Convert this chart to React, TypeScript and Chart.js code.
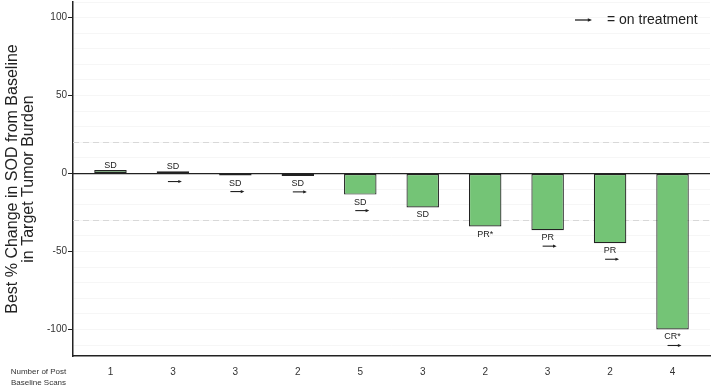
import React, { useEffect, useRef } from 'react';
import { Chart, registerables } from 'chart.js';

Chart.register(...registerables);

// ---- data ----
const scans: string[] = ['1', '3', '3', '2', '5', '3', '2', '3', '2', '4'];
const changes: number[] = [2.2, 1.5, -1.3, -1.5, -13.5, -21.7, -34, -36.3, -44.7, -100];
const responses: string[] = ['SD', 'SD', 'SD', 'SD', 'SD', 'SD', 'PR*', 'PR', 'PR', 'CR*'];
const onTreatment: boolean[] = [false, true, true, true, true, false, false, true, true, true];
const yTickLabels: number[] = [-100, -50, 0, 50, 100];
const thresholds: number[] = [20, -30];
const yTitle: string[] = ['Best % Change in SOD from Baseline', 'in Target Tumor Burden'];
const xTitle: string[] = ['Number of Post', 'Baseline Scans'];
const legendText = '= on treatment';

const FONT = "'Liberation Sans', Arial, Helvetica, sans-serif";
const BAR_FILL = '#74c476';
const DARK = '#222222';

function drawArrow(ctx: CanvasRenderingContext2D, x0: number, x1: number, y: number, head: number, lw: number) {
  ctx.save();
  ctx.strokeStyle = DARK;
  ctx.fillStyle = DARK;
  ctx.lineWidth = lw;
  ctx.beginPath();
  ctx.moveTo(x0, y);
  ctx.lineTo(x1 - head * 0.6, y);
  ctx.stroke();
  ctx.beginPath();
  ctx.moveTo(x1, y);
  ctx.lineTo(x1 - head * 1.4, y - head * 0.6);
  ctx.lineTo(x1 - head * 1.4, y + head * 0.6);
  ctx.closePath();
  ctx.fill();
  ctx.restore();
}

const annotPlugin = {
  id: 'annot',
  beforeDatasetsDraw(chart: any) {
    const { ctx, chartArea, scales } = chart;
    const y = scales.y;
    ctx.save();
    ctx.strokeStyle = '#d8d8d8';
    ctx.lineWidth = 1;
    ctx.setLineDash([6, 4]);
    thresholds.forEach((t) => {
      const py = Math.round(y.getPixelForValue(t)) + 0.5;
      ctx.beginPath();
      ctx.moveTo(chartArea.left, py);
      ctx.lineTo(chartArea.right, py);
      ctx.stroke();
    });
    ctx.restore();
  },
  afterDatasetsDraw(chart: any) {
    const { ctx, chartArea, scales } = chart;
    const y = scales.y;
    const zero = y.getPixelForValue(0);
    // zero line
    ctx.save();
    ctx.strokeStyle = DARK;
    ctx.lineWidth = 1.2;
    ctx.beginPath();
    ctx.moveTo(chartArea.left, zero);
    ctx.lineTo(chartArea.right, zero);
    ctx.stroke();
    ctx.restore();

    const meta = chart.getDatasetMeta(0);
    ctx.save();
    ctx.font = `9px ${FONT}`;
    ctx.fillStyle = DARK;
    ctx.textAlign = 'center';
    ctx.textBaseline = 'middle';
    meta.data.forEach((bar: any, i: number) => {
      const v = changes[i];
      const cx = bar.x;
      if (v >= 0) {
        ctx.fillText(responses[i], cx, bar.y - 4.5);
        if (onTreatment[i]) drawArrow(ctx, cx - 5, cx + 9, zero + 8, 2.6, 1.1);
      } else {
        ctx.fillText(responses[i], cx, bar.y + 7.5);
        if (onTreatment[i]) drawArrow(ctx, cx - 5, cx + 9, bar.y + 16, 2.6, 1.1);
      }
    });
    ctx.restore();

    // legend
    ctx.save();
    const ly = chartArea.top + 18;
    drawArrow(ctx, chartArea.right - 135, chartArea.right - 118, ly, 3, 1.3);
    ctx.font = `14px ${FONT}`;
    ctx.fillStyle = DARK;
    ctx.textAlign = 'left';
    ctx.textBaseline = 'middle';
    ctx.fillText(legendText, chartArea.right - 103, ly);
    ctx.restore();

    // x title at left
    ctx.save();
    ctx.font = `8px ${FONT}`;
    ctx.fillStyle = '#333333';
    ctx.textAlign = 'center';
    ctx.textBaseline = 'middle';
    const xa = scales.x;
    xTitle.forEach((t, i) => {
      ctx.fillText(t, chartArea.left / 2 + 2, xa.top + 16 + i * 11);
    });
    ctx.restore();
  },
};

export default function App() {
  const ref = useRef<HTMLCanvasElement | null>(null);

  useEffect(() => {
    if (!ref.current) return;
    const chart = new Chart(ref.current, {
      type: 'bar',
      data: {
        datasets: [
          {
            data: changes.map((v, i) => ({ x: i + 1, y: v })),
            backgroundColor: BAR_FILL,
            borderColor: DARK,
            borderWidth: 1.2,
            borderSkipped: false,
            barPercentage: 0.52,
            categoryPercentage: 1,
          },
        ],
      },
      options: {
        animation: false,
        responsive: true,
        maintainAspectRatio: false,
        layout: { padding: { top: 2, right: 2, left: 0, bottom: 0 } },
        plugins: { legend: { display: false }, tooltip: { enabled: false } },
        scales: {
          x: {
            type: 'linear',
            min: 0.4,
            max: 10.6,
            offset: false,
            afterBuildTicks: (s: any) => {
              s.ticks = scans.map((_, i) => ({ value: i + 1 }));
            },
            afterFit: (s: any) => {
              s.height = 34;
              s.paddingLeft = 0;
              s.paddingRight = 0;
            },
            grid: { display: true, drawOnChartArea: false, drawTicks: false, offset: false },
            border: { display: true, color: DARK, width: 1.5 },
            ticks: {
              padding: 10,
              autoSkip: false,
              maxRotation: 0,
              color: '#333333',
              font: { family: FONT, size: 10 },
              callback: (v: any) => scans[Math.round(Number(v)) - 1] ?? '',
            },
          },
          y: {
            type: 'linear',
            min: -117,
            max: 110,
            afterBuildTicks: (s: any) => {
              const t: any[] = [];
              for (let v = -110; v <= 110; v += 10) t.push({ value: v });
              s.ticks = t;
            },
            afterFit: (s: any) => {
              s.width = 73;
              s.paddingTop = 0;
              s.paddingBottom = 0;
            },
            grid: {
              color: 'rgba(0,0,0,0.035)',
              tickLength: 5,
              tickColor: (c: any) => (c.tick && yTickLabels.includes(c.tick.value) ? DARK : 'rgba(0,0,0,0)'),
              tickWidth: 1,
            },
            border: { display: true, color: DARK, width: 1.5 },
            ticks: {
              padding: 1,
              autoSkip: false,
              color: '#333333',
              font: { family: FONT, size: 10 },
              callback: (v: any) => (yTickLabels.includes(Number(v)) ? String(v) : ''),
            },
            title: {
              display: true,
              text: yTitle,
              color: DARK,
              font: { family: FONT, size: 16, lineHeight: 0.97 },
              padding: { top: 5, bottom: 0 },
            },
          },
        },
      },
      plugins: [annotPlugin],
    });
    return () => chart.destroy();
  }, []);

  return (
    <div style={{ position: 'fixed', left: 0, top: 0, width: 712, height: 390, background: '#fff' }}>
      <canvas ref={ref} />
    </div>
  );
}
